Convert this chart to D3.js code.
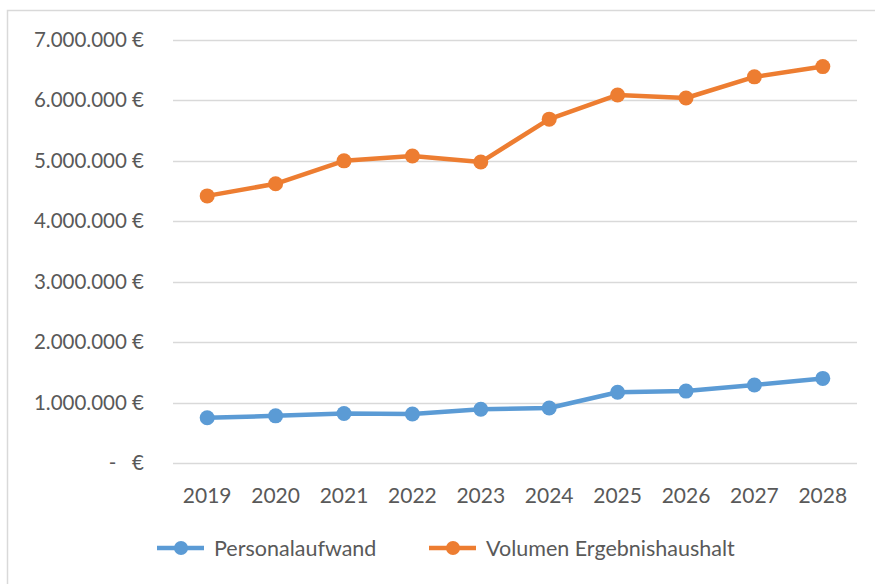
<!DOCTYPE html>
<html><head><meta charset="utf-8">
<script src="https://cdn.jsdelivr.net/npm/d3@7"></script>
<style>body{margin:0;background:#fff}text{font-family:Lato,"Open Sans",sans-serif;fill:#595959}</style>
</head><body><svg id="c" width="875" height="584"></svg>
<script>
const years = ["2019","2020","2021","2022","2023","2024","2025","2026","2027","2028"];
const personal = [750000,780000,820000,810000,890000,910000,1170000,1190000,1290000,1400000];
const volumen = [4420000,4620000,5000000,5080000,4980000,5690000,6090000,6040000,6390000,6560000];
const yTicks = [0,1000000,2000000,3000000,4000000,5000000,6000000,7000000];
const seriesNames = ["Personalaufwand","Volumen Ergebnishaushalt"];
const colors = ["#5B9BD5","#ED7D31"];

const svg = d3.select("#c");
svg.append("path").attr("d","M7.5,584 V10.5 H875").attr("fill","none").attr("stroke","#D9D9D9").attr("stroke-width",1.5);

const x = d3.scaleBand().domain(years).range([173,857]);
const y = d3.scaleLinear().domain([0,7000000]).range([463,40]);

const fmt = v => v===0 ? "-   €" : d3.format(",")(v).replace(/,/g,".")+" €";

svg.append("g").selectAll("line").data(yTicks).join("line")
  .attr("x1",173).attr("x2",857).attr("y1",d=>Math.round(y(d))+0.5).attr("y2",d=>Math.round(y(d))+0.5)
  .attr("stroke","#D9D9D9").attr("stroke-width",1.3);

svg.append("g").selectAll("text").data(yTicks).join("text")
  .attr("x",144).attr("y",d=>y(d)+7).attr("text-anchor","end").attr("font-size",20.5)
  .style("white-space","pre").text(fmt);

svg.append("g").selectAll("text").data(years).join("text")
  .attr("x",d=>x(d)+x.bandwidth()/2).attr("y",503).attr("text-anchor","middle").attr("font-size",21).text(d=>d);

const line = d3.line().x((d,i)=>x(years[i])+x.bandwidth()/2).y(d=>y(d));
[personal,volumen].forEach((s,k)=>{
  const g = svg.append("g");
  g.append("path").datum(s).attr("d",line).attr("fill","none").attr("stroke",colors[k]).attr("stroke-width",4.5).attr("stroke-linejoin","round");
  g.selectAll("circle").data(s).join("circle")
    .attr("cx",(d,i)=>x(years[i])+x.bandwidth()/2).attr("cy",d=>y(d)).attr("r",7.5).attr("fill",colors[k]);
});

const leg = [{x:157},{x:429}];
seriesNames.forEach((n,k)=>{
  const lx = leg[k].x;
  svg.append("line").attr("x1",lx).attr("x2",lx+47).attr("y1",548).attr("y2",548).attr("stroke",colors[k]).attr("stroke-width",4.5);
  svg.append("circle").attr("cx",lx+24).attr("cy",548).attr("r",7).attr("fill",colors[k]);
  svg.append("text").attr("x",lx+57).attr("y",555.5).attr("font-size",21.5).text(n);
});
</script></body></html>
